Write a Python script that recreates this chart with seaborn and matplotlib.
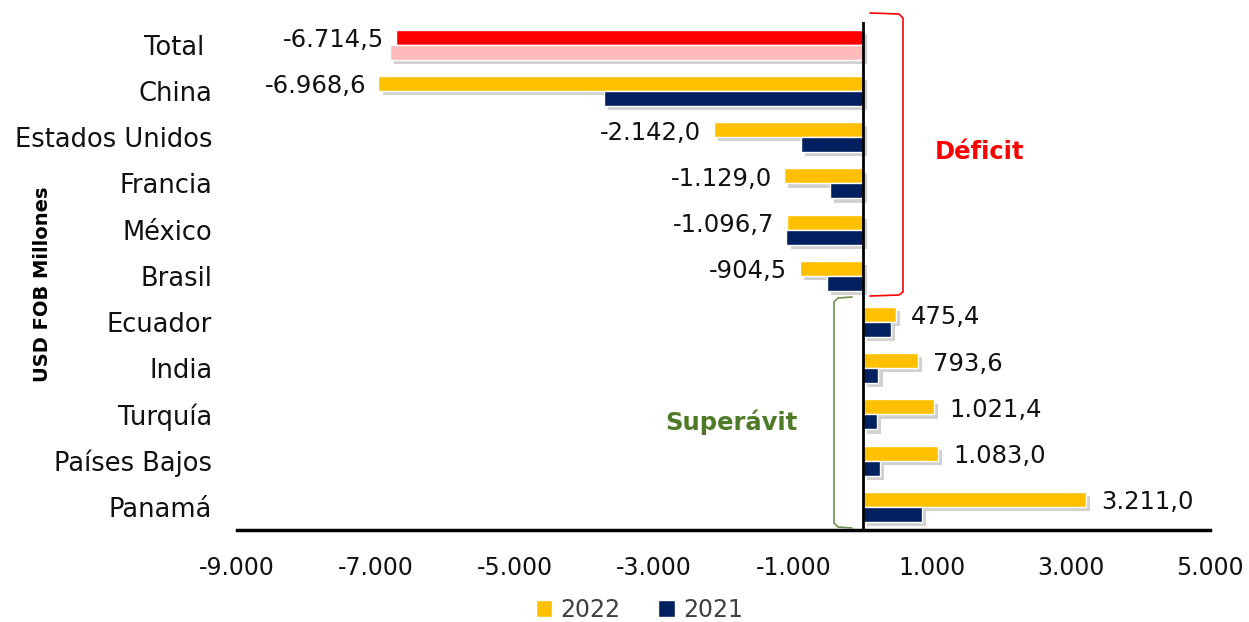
import matplotlib
matplotlib.use('Agg')
import matplotlib.pyplot as plt
import matplotlib.patheffects as pe
from matplotlib.patches import Patch
import pandas as pd
import seaborn as sns

paises = ['Total', 'China', 'Estados Unidos', 'Francia', 'México', 'Brasil',
          'Ecuador', 'India', 'Turquía', 'Países Bajos', 'Panamá']
valores_2022 = [-6714.5, -6968.6, -2142.0, -1129.0, -1096.7, -904.5,
                475.4, 793.6, 1021.4, 1083.0, 3211.0]
valores_2021 = [-6800.0, -3727.0, -885.0, -475.0, -1100.0, -518.0,
                407.0, 226.0, 206.0, 249.0, 853.0]
anios = ['2022', '2021']
ticks_x = [-9000, -7000, -5000, -3000, -1000, 1000, 3000, 5000]


def formato_es(v, dec=1):
    s = f'{v:,.{dec}f}'
    return s.replace(',', 'X').replace('.', ',').replace('X', '.')


df = pd.DataFrame({
    'pais': paises * 2,
    'valor': valores_2022 + valores_2021,
    'anio': ['2022'] * len(paises) + ['2021'] * len(paises),
})

sns.set_style('white')
plt.rcParams['font.family'] = ['DejaVu Sans']
plt.rcParams['text.color'] = '#111111'
plt.rcParams['xtick.color'] = '#111111'
plt.rcParams['ytick.color'] = '#111111'

colores = {'2022': '#FFC000', '2021': '#002060'}

fig = plt.figure(figsize=(12.49, 6.22), dpi=100)
ax = fig.add_axes([0.19, 0.148, 0.779, 0.817])

sns.barplot(data=df, x='valor', y='pais', hue='anio', hue_order=anios,
            order=paises, palette=colores, width=0.65, orient='h',
            legend=False, ax=ax, saturation=1)

# Total en rojo / rosa
ax.containers[0][0].set_facecolor('#FF0000')
ax.containers[1][0].set_facecolor('#FFBBBB')

sombra = [pe.SimplePatchShadow(offset=(3, -3), shadow_rgbFace='#999999', alpha=0.45), pe.Normal()]
for cont in ax.containers:
    for barra in cont:
        barra.set_path_effects(sombra)

# etiquetas de valores 2022
for i, v in enumerate(valores_2022):
    if v < 0:
        ax.annotate(formato_es(v), (v, i - 0.1), xytext=(-9, 0), textcoords='offset points',
                    ha='right', va='center', fontsize=17.5, color='#111111')
    else:
        ax.annotate(formato_es(v), (v, i - 0.1), xytext=(11, 0), textcoords='offset points',
                    ha='left', va='center', fontsize=17.5, color='#111111')

ax.set_xlim(-9000, 5000)
ax.set_ylim(10.5, -0.5)
ax.set_xticks(ticks_x)
ax.set_xticklabels([formato_es(t, 0) for t in ticks_x], fontsize=17)
ax.set_yticklabels([p if p != 'Total' else 'Total ' for p in paises], fontsize=18.5)
ax.tick_params(axis='both', length=0)
ax.tick_params(axis='x', pad=19)
ax.tick_params(axis='y', pad=18)
ax.set_xlabel('')
ax.set_ylabel('')
for lado in ['top', 'right', 'left']:
    ax.spines[lado].set_visible(False)
ax.spines['bottom'].set_linewidth(2.5)
ax.spines['bottom'].set_color('black')
ax.axvline(0, color='black', lw=2, zorder=5)

fig.text(0.034, 0.543, 'USD FOB Millones', rotation=90, fontsize=14,
         fontweight='bold', ha='center', va='center', color='black')

# llaves déficit / superávit
ax_llaves = fig.add_axes([0, 0, 1, 1], facecolor='none')
ax_llaves.set_xlim(0, 1249)
ax_llaves.set_ylim(622, 0)
ax_llaves.axis('off')
ax_llaves.plot([870, 899, 903, 903, 899, 870], [13, 14, 18, 292, 295, 296],
               color='#FF0000', lw=1.2)
ax_llaves.plot([852, 838, 834, 834, 838, 852], [297, 298, 302, 523, 527, 528],
               color='#6E8F4E', lw=1.2)
ax_llaves.text(980, 152, 'Déficit', color='#FF0000', fontsize=17.5,
               fontweight='bold', ha='center', va='center')
ax_llaves.text(731, 422, 'Superávit', color='#4F7A28', fontsize=17.5,
               fontweight='bold', ha='center', va='center')

handles = [Patch(facecolor=colores[a], label=a) for a in anios]
fig.legend(handles=handles, loc='center', bbox_to_anchor=(0.512, 0.02),
           ncol=2, frameon=False, fontsize=17, handlelength=0.7,
           handleheight=0.7, handletextpad=0.35, columnspacing=1.6,
           labelcolor='#404040')

fig.savefig('out.png', dpi=100)
